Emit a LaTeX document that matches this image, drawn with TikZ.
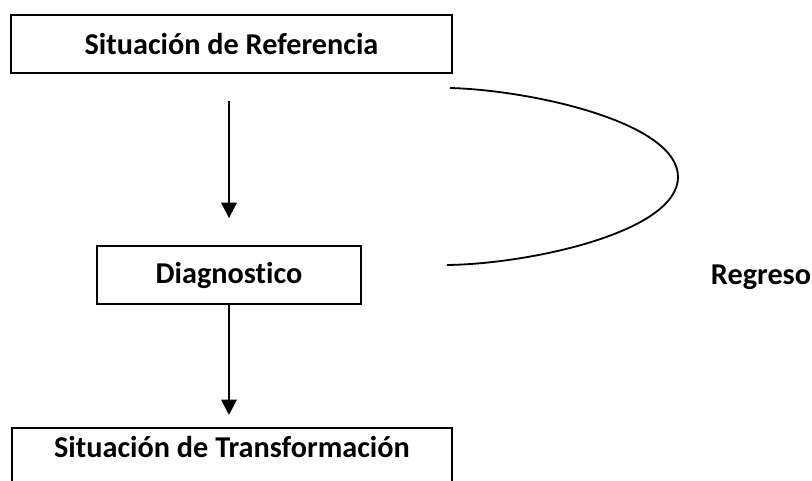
\documentclass[tikz,border=0pt]{standalone}
\usepackage{fontspec}
\setmainfont{Carlito}[Ligatures=NoCommon]
\usetikzlibrary{arrows.meta}

\tikzset{
  caja/.style={draw, line width=1.3pt, minimum height=1.45cm, inner sep=0pt,
    font=\bfseries\fontsize{21.5}{25}\selectfont},
  rotulo/.style={font=\bfseries\fontsize{21.5}{25}\selectfont, inner sep=0pt},
  flecha/.style={line width=1.4pt, -{Triangle[length=11pt,width=11pt]}},
}

\begin{document}
\begin{tikzpicture}[x=0.025cm, y=-0.025cm]
        \clip (0,0) rectangle (812,481);

        % Draw boxes
        \node[caja, minimum width=11.025cm] (ref) at (231.5,44) {Situación de Referencia};
        \node[caja, minimum width=6.6cm] (diag) at (229,275) {Diagnostico};
        \node[caja, minimum width=11cm, anchor=north, text height=15pt, text depth=50pt, inner ysep=6pt] (trans) at (232,427) {Situación de Transformación};

        % Draw arrows
        \draw[flecha, shorten <=0.675cm, shorten >=0.675cm] (ref.south -| diag) -- (diag.north);
        \draw[flecha, shorten >=0.3cm] (diag.south) -- (trans.north -| diag);

        % Draw return loop
        \coordinate (retA) at (450,88);
        \coordinate (retB) at (678,177);
        \coordinate (retC) at (447,265);
        \draw[line width=1.3pt] (retA) .. controls (530,90) and (678,122) .. (retB)
              .. controls (678,232) and (530,264) .. (retC);
        \node[rotulo, anchor=base] (regreso) at (761,284) {Regreso};
\end{tikzpicture}
\end{document}
